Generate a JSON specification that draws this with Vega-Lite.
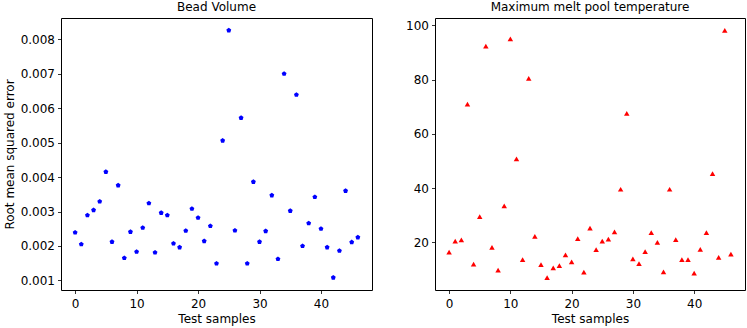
{
  "$schema": "https://vega.github.io/schema/vega-lite/v6.json",
  "padding": {"left": 2, "top": 0, "right": 2, "bottom": 2},
  "background": "white",
  "bounds": "flush",
  "spacing": 63,
  "config": {
    "font": "DejaVu Sans",
    "view": {"stroke": "black", "strokeWidth": 1},
    "axis": {
      "grid": false,
      "domain": false,
      "tickColor": "black",
      "tickSize": 3.5,
      "tickWidth": 0.8,
      "labelFont": "DejaVu Sans",
      "labelFontSize": 12,
      "labelColor": "black",
      "labelPadding": 3,
      "titleFont": "DejaVu Sans",
      "titleFontSize": 12,
      "titleFontWeight": "normal",
      "titleColor": "black"
    },
    "title": {"font": "DejaVu Sans", "fontSize": 12, "fontWeight": "normal", "color": "black", "offset": 4}
  },
  "datasets": {
    "bead": [
      {"sample": 0, "rmse": 0.00239}, {"sample": 1, "rmse": 0.00205}, {"sample": 2, "rmse": 0.00289},
      {"sample": 3, "rmse": 0.00304}, {"sample": 4, "rmse": 0.00329}, {"sample": 5, "rmse": 0.00415},
      {"sample": 6, "rmse": 0.00212}, {"sample": 7, "rmse": 0.00376}, {"sample": 8, "rmse": 0.00165},
      {"sample": 9, "rmse": 0.00241}, {"sample": 10, "rmse": 0.00183}, {"sample": 11, "rmse": 0.00253},
      {"sample": 12, "rmse": 0.00324}, {"sample": 13, "rmse": 0.00181}, {"sample": 14, "rmse": 0.00296},
      {"sample": 15, "rmse": 0.00289}, {"sample": 16, "rmse": 0.00207}, {"sample": 17, "rmse": 0.00196},
      {"sample": 18, "rmse": 0.00244}, {"sample": 19, "rmse": 0.00308}, {"sample": 20, "rmse": 0.00282},
      {"sample": 21, "rmse": 0.00214}, {"sample": 22, "rmse": 0.00258}, {"sample": 23, "rmse": 0.00149},
      {"sample": 24, "rmse": 0.00506}, {"sample": 25, "rmse": 0.00826}, {"sample": 26, "rmse": 0.00245},
      {"sample": 27, "rmse": 0.00572}, {"sample": 28, "rmse": 0.00149}, {"sample": 29, "rmse": 0.00386},
      {"sample": 30, "rmse": 0.00212}, {"sample": 31, "rmse": 0.00243}, {"sample": 32, "rmse": 0.00347},
      {"sample": 33, "rmse": 0.00162}, {"sample": 34, "rmse": 0.00700}, {"sample": 35, "rmse": 0.00302},
      {"sample": 36, "rmse": 0.00639}, {"sample": 37, "rmse": 0.00200}, {"sample": 38, "rmse": 0.00266},
      {"sample": 39, "rmse": 0.00342}, {"sample": 40, "rmse": 0.00250}, {"sample": 41, "rmse": 0.00196},
      {"sample": 42, "rmse": 0.00108}, {"sample": 43, "rmse": 0.00186}, {"sample": 44, "rmse": 0.00360},
      {"sample": 45, "rmse": 0.00211}, {"sample": 46, "rmse": 0.00225}
    ],
    "temp": [
      {"sample": 0, "rmse": 16.4}, {"sample": 1, "rmse": 20.5}, {"sample": 2, "rmse": 20.9},
      {"sample": 3, "rmse": 71.0}, {"sample": 4, "rmse": 12.0}, {"sample": 5, "rmse": 29.5},
      {"sample": 6, "rmse": 92.4}, {"sample": 7, "rmse": 18.2}, {"sample": 8, "rmse": 9.8},
      {"sample": 9, "rmse": 33.5}, {"sample": 10, "rmse": 95.1}, {"sample": 11, "rmse": 50.8},
      {"sample": 12, "rmse": 13.6}, {"sample": 13, "rmse": 80.5}, {"sample": 14, "rmse": 22.2},
      {"sample": 15, "rmse": 11.8}, {"sample": 16, "rmse": 7.0}, {"sample": 17, "rmse": 10.6},
      {"sample": 18, "rmse": 11.4}, {"sample": 19, "rmse": 15.4}, {"sample": 20, "rmse": 12.8},
      {"sample": 21, "rmse": 21.4}, {"sample": 22, "rmse": 9.0}, {"sample": 23, "rmse": 25.3},
      {"sample": 24, "rmse": 17.3}, {"sample": 25, "rmse": 20.5}, {"sample": 26, "rmse": 21.2},
      {"sample": 27, "rmse": 23.9}, {"sample": 28, "rmse": 39.6}, {"sample": 29, "rmse": 67.6},
      {"sample": 30, "rmse": 13.9}, {"sample": 31, "rmse": 12.2}, {"sample": 32, "rmse": 16.6},
      {"sample": 33, "rmse": 23.6}, {"sample": 34, "rmse": 20.0}, {"sample": 35, "rmse": 9.1},
      {"sample": 36, "rmse": 39.6}, {"sample": 37, "rmse": 21.0}, {"sample": 38, "rmse": 13.6},
      {"sample": 39, "rmse": 13.6}, {"sample": 40, "rmse": 8.7}, {"sample": 41, "rmse": 17.4},
      {"sample": 42, "rmse": 23.6}, {"sample": 43, "rmse": 45.4}, {"sample": 44, "rmse": 14.5},
      {"sample": 45, "rmse": 98.2}, {"sample": 46, "rmse": 15.7}
    ]
  },
  "hconcat": [
    {
      "title": "Bead Volume",
      "width": 311,
      "height": 272,
      "data": {"name": "bead"},
      "mark": {
        "type": "point",
        "shape": "M0,-1L0.951,-0.309L0.588,0.809L-0.588,0.809L-0.951,-0.309Z",
        "filled": true,
        "color": "#0000ff",
        "size": 26,
        "opacity": 1
      },
      "encoding": {
        "x": {
          "field": "sample", "type": "quantitative", "title": "Test samples",
          "scale": {"domain": [-2.3, 48.3], "nice": false, "zero": false},
          "axis": {"values": [0, 10, 20, 30, 40], "labelPadding": 4.5, "titlePadding": 4}
        },
        "y": {
          "field": "rmse", "type": "quantitative", "title": "Root mean squared error",
          "scale": {"domain": [0.000721, 0.008619], "nice": false, "zero": false},
          "axis": {"values": [0.001, 0.002, 0.003, 0.004, 0.005, 0.006, 0.007, 0.008], "format": ".3f", "titlePadding": 4}
        }
      }
    },
    {
      "title": "Maximum melt pool temperature",
      "width": 310,
      "height": 272,
      "data": {"name": "temp"},
      "mark": {
        "type": "point",
        "shape": "triangle-up",
        "filled": true,
        "color": "#ff0000",
        "size": 30,
        "opacity": 1
      },
      "encoding": {
        "x": {
          "field": "sample", "type": "quantitative", "title": "Test samples",
          "scale": {"domain": [-2.3, 48.3], "nice": false, "zero": false},
          "axis": {"values": [0, 10, 20, 30, 40], "labelPadding": 4.5, "titlePadding": 4}
        },
        "y": {
          "field": "rmse", "type": "quantitative", "title": null,
          "scale": {"domain": [2.44, 102.76], "nice": false, "zero": false},
          "axis": {"values": [20, 40, 60, 80, 100]}
        }
      }
    }
  ]
}
